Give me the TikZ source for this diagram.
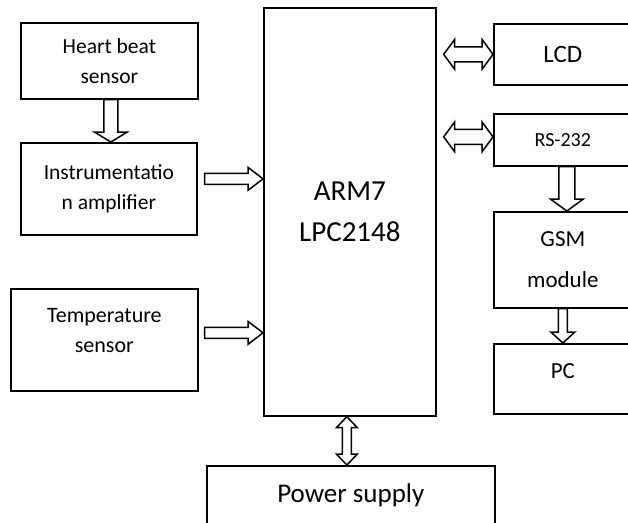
\documentclass[tikz,border=0pt]{standalone}
\usepackage{fontspec}
\setmainfont{Carlito}
\usepackage{tikz}
\usetikzlibrary{calc}
\usetikzlibrary{positioning}

% hollow block arrow from #1 to #2: shaft half width #3, head half width #4, head length #5
\newcommand{\blockarrow}[5]{%
  \coordinate (ba-h) at ($(#2)!#5!(#1)$);
  \draw[arrowbody] ($(#1)!#3!90:(#2)$) -- ($(ba-h)!#3!90:(#2)$) -- ($(ba-h)!#4!90:(#2)$) -- (#2)
    -- ($(ba-h)!#4!-90:(#2)$) -- ($(ba-h)!#3!-90:(#2)$) -- ($(#1)!#3!-90:(#2)$) -- cycle;
}
% hollow block arrow with a head at both ends
\newcommand{\dblarrow}[5]{%
  \coordinate (da-a) at ($(#1)!#5!(#2)$);
  \coordinate (da-b) at ($(#2)!#5!(#1)$);
  \draw[arrowbody] (#1) -- ($(da-a)!#4!90:(#2)$) -- ($(da-a)!#3!90:(#2)$) -- ($(da-b)!#3!90:(#2)$)
    -- ($(da-b)!#4!90:(#2)$) -- (#2) -- ($(da-b)!#4!-90:(#2)$) -- ($(da-b)!#3!-90:(#2)$)
    -- ($(da-a)!#3!-90:(#2)$) -- ($(da-a)!#4!-90:(#2)$) -- cycle;
}

\begin{document}
\begin{tikzpicture}[x=1pt, y=-1pt,
  box/.style={draw, line width=1.7pt, anchor=north west, inner sep=0pt, align=center},
  arrowbody/.style={draw, line width=1.5pt, fill=white, line join=miter},
  small/.style={font=\fontsize{21.5}{30}\selectfont}]

\useasboundingbox (0,0) rectangle (628,522);
\clip (0,0) rectangle (628,522);

% left column
\node[box, small, minimum width=177pt, minimum height=76pt] (hb) at (20,22) {Heart beat\\sensor};
\node[box, small, minimum width=176pt, minimum height=92pt] (ia) at (20,142) {Instrumentatio\\n amplifier};
\node[box, font=\fontsize{22}{30}\selectfont, text depth=18pt, minimum width=187pt, minimum height=102pt] (temp) at (10,288) {Temperature\\sensor};

% controller
\node[box, font=\fontsize{29}{41}\selectfont, minimum width=172pt, minimum height=408pt] (arm) at (263,7) {ARM7\\LPC2148};

% right column
\node[box, font=\fontsize{25}{30}\selectfont, minimum width=138pt, minimum height=61pt] (lcd) at (493,23) {LCD};
\node[box, font=\fontsize{20}{26}\selectfont, minimum width=138pt, minimum height=52pt] (rs) at (493,113) {RS-232};
\node[box, font=\fontsize{23}{41}\selectfont, minimum width=138pt, minimum height=96pt] (gsm) at (493,211) {GSM\\module};
\node[box, font=\fontsize{23}{30}\selectfont, text depth=16pt, minimum width=138pt, minimum height=70pt] (pc) at (493,343) {PC};

% supply
\node[box, font=\fontsize{27}{34}\selectfont, minimum width=288pt, minimum height=58pt] (power) at (206,465) {Power supply};

% connectors
\coordinate (a1s) at ($(hb.south)+(1.5,0)$);
\coordinate (a1e) at (a1s |- ia.north);
\blockarrow{a1s}{a1e}{7pt}{16.5pt}{10pt}

\coordinate (a2s) at ($(ia.east)+(7,-10)$);
\coordinate (a2e) at (arm.west |- a2s);
\blockarrow{a2s}{a2e}{5.5pt}{11.5pt}{15pt}

\coordinate (a3s) at ($(temp.east)+(6,-7)$);
\coordinate (a3e) at (arm.west |- a3s);
\blockarrow{a3s}{a3e}{5.5pt}{11.5pt}{15pt}

\coordinate (a4s) at ($(arm.east |- lcd.west)+(7,0)$);
\coordinate (a4e) at (lcd.west);
\dblarrow{a4s}{a4e}{7.5pt}{15pt}{11pt}

\coordinate (a5s) at ($(arm.east |- rs.west)+(7,-3)$);
\coordinate (a5e) at (rs.west |- a5s);
\dblarrow{a5s}{a5e}{7.5pt}{15pt}{11pt}

\coordinate (a6s) at ($(rs.south)+(4,0)$);
\coordinate (a6e) at (a6s |- gsm.north);
\blockarrow{a6s}{a6e}{8pt}{16.5pt}{12pt}

\coordinate (a7s) at (gsm.south);
\coordinate (a7e) at (pc.north);
\blockarrow{a7s}{a7e}{4.5pt}{12pt}{11pt}

\coordinate (a8s) at ($(arm.south)+(-3,0)$);
\coordinate (a8e) at (a8s |- power.north);
\dblarrow{a8s}{a8e}{4.5pt}{10.5pt}{11pt}

\end{tikzpicture}
\end{document}
